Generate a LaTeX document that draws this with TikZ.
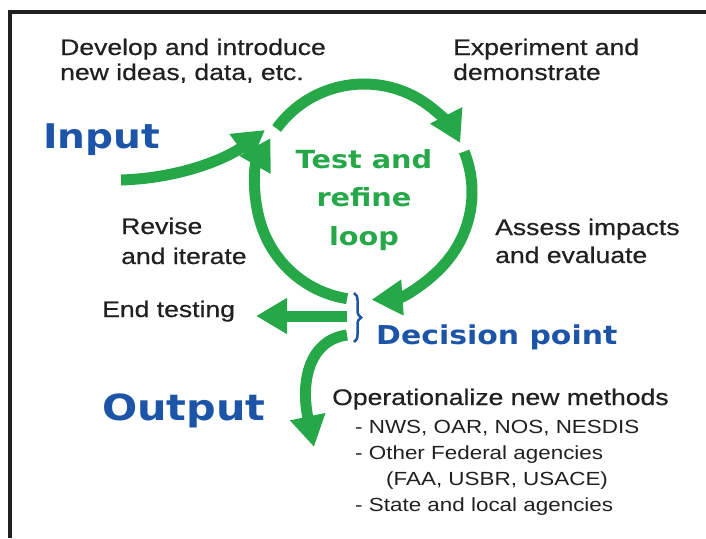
\documentclass[tikz,border=0pt]{standalone}
\usepackage{fontspec}
\setmainfont{Liberation Sans}[FakeStretch=1.18, FakeBold=0.6]
\newfontfamily\listfont{Liberation Sans}[FakeStretch=1.18]
\newfontfamily\heavyfont{DejaVu Sans}[FakeStretch=1.15]
\usetikzlibrary{arrows.meta,decorations.pathreplacing}
\definecolor{loopgreen}{RGB}{38,168,72}
\definecolor{titleblue}{RGB}{28,84,168}
\definecolor{ink}{RGB}{32,32,32}
\tikzset{
  flow/.style={draw=loopgreen, line width=11pt, -{Triangle[length=31pt,width=34pt]}},
  txt/.style={anchor=base west, inner sep=0pt, align=left, text=ink, font=\fontsize{22.5}{25}\selectfont},
  big/.style={anchor=base west, inner sep=0pt, text=titleblue, font=\heavyfont\bfseries\fontsize{#1}{#1}\selectfont}
}
\begin{document}
\begin{tikzpicture}[x=1pt,y=1pt]
            \useasboundingbox (0,0) rectangle (706,-538);
            \draw[ink, line width=3.5pt] (706,-12) -- (10,-12) -- (10,-538);

            \coordinate (c) at (364,-192);
            \coordinate (in) at (121,-180);
            \coordinate (inend) at (265,-130);
            \coordinate (fork1) at (347,-316);
            \coordinate (fork2) at (347,-335);
            \coordinate (endend) at (256,-316);
            \coordinate (outend) at (314,-447);
            \coordinate (bracetop) at (354,-293);
            \coordinate (bracebot) at (354,-342);

            % test and refine loop
            \draw[flow] ([shift={(c)}]144:108) arc[start angle=144, end angle=27, radius=108];
            \draw[flow] ([shift={(c)}]22:108) arc[start angle=22, end angle=-86, radius=108];
            \draw[flow] ([shift={(c)}]-99:108) arc[start angle=-99, end angle=-210, radius=108];

            \draw[flow] (in) .. controls (185,-178) and (230,-156) .. (inend);
            \draw[flow] (fork1) -- (endend);
            \draw[flow] (fork2) .. controls (310,-340) and (300,-380) .. (outend);
            \draw[titleblue, line width=2.5pt, decorate, decoration={brace, amplitude=7pt}] (bracetop) -- (bracebot);

            % base of a multi-line node is its last line
            \node[txt] (develop) at (60,-80) {Develop and introduce\\new ideas, data, etc.};
            \node[txt] (experiment) at (453,-80) {Experiment and\\demonstrate};
            \node[txt, font=\fontsize{22.5}{28}\selectfont] (assess) at (495,-263) {Assess impacts\\and evaluate};
            \node[txt, font=\fontsize{22.5}{30}\selectfont] (revise) at (121,-264) {Revise\\and iterate};
            \node[txt] (endtest) at (102,-317) {End testing};
            \node[txt] (operational) at (332,-405) {Operationalize new methods};
            \node[txt, font=\listfont\fontsize{19}{26}\selectfont] (agencies) at (355,-511) {- NWS, OAR, NOS, NESDIS\\- Other Federal agencies\\\hspace*{31pt}(FAA, USBR, USACE)\\- State and local agencies};

            \node[big=34] (input) at (43,-148) {Input};
            \node[big=36] (output) at (102,-420) {Output};
            \node[big=26] (decision) at (376,-344) {Decision point};
            \node[anchor=base, inner sep=0pt, align=center, text=loopgreen, font=\heavyfont\bfseries\fontsize{25}{38.5}\selectfont] (testloop) at (364,-245) {Test and\\refine\\loop};
        \end{tikzpicture}
\end{document}
